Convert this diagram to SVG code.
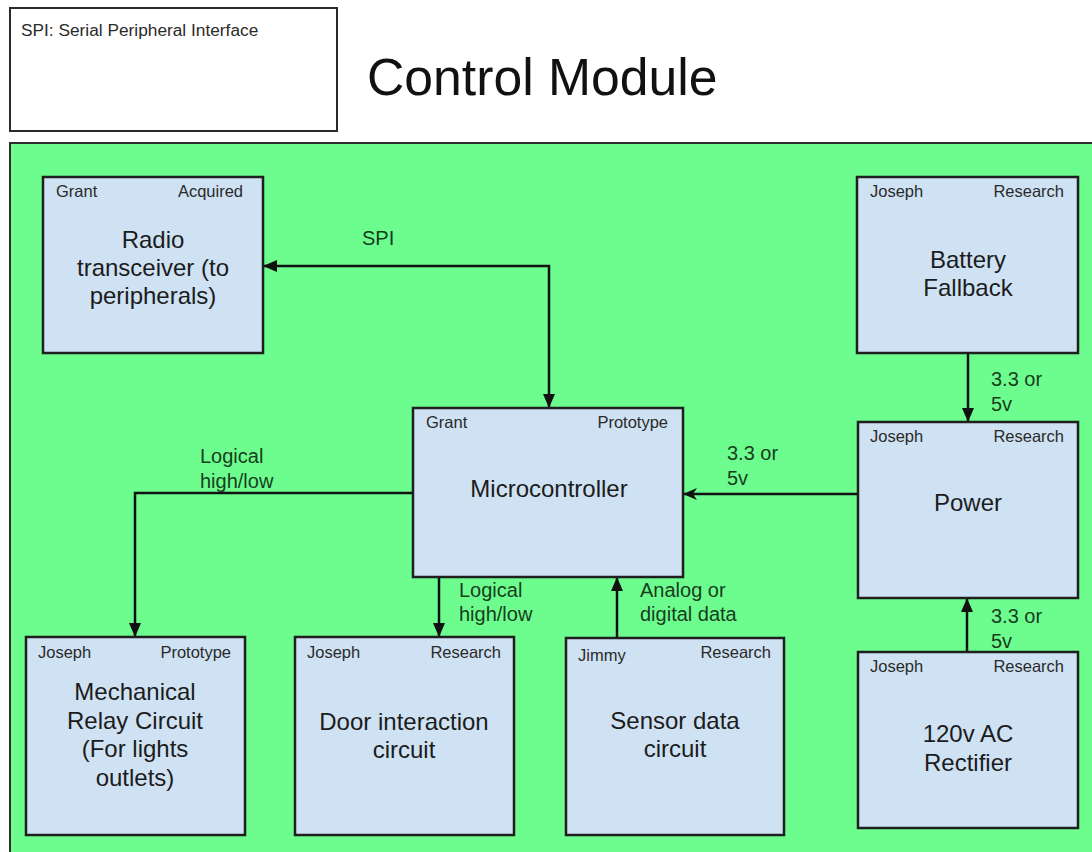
<svg xmlns="http://www.w3.org/2000/svg" width="1092" height="852" viewBox="0 0 1092 852">
<defs>
<style>
.node{fill:#cfe2f3;stroke:#1f1f1f;stroke-width:2.5}
.tag{font-family:"Liberation Sans",Arial,sans-serif;font-size:16.5px;fill:#2a2a2a}
.main{font-family:"Liberation Sans",Arial,sans-serif;font-size:24px;fill:#1c1c1c;text-anchor:middle}
.lbl{font-family:"Liberation Sans",Arial,sans-serif;font-size:20px;fill:#173d20}
.conn{fill:none;stroke:#111;stroke-width:2.5}
</style>
<marker id="arr" markerUnits="userSpaceOnUse" markerWidth="14" markerHeight="12" refX="14" refY="6" orient="auto-start-reverse">
<path d="M0,0 L14,6 L0,12 z" fill="#111"/>
</marker>
<marker id="arr2" markerUnits="userSpaceOnUse" markerWidth="14" markerHeight="12" refX="14" refY="6" orient="auto">
<path d="M0,0 L14,6 L0,12 L4,6 z" fill="#111"/>
</marker>
</defs>
<rect x="0" y="0" width="1092" height="852" fill="#ffffff"/>
<g id="legend">
<rect x="10" y="8" width="327" height="123" fill="#ffffff" stroke="#2a2a2a" stroke-width="2"/>
<text x="21" y="36" class="tag" style="font-size:17.3px">SPI: Serial Peripheral Interface</text>
</g>
<text id="title" x="367" y="95" font-family="'Liberation Sans',Arial,sans-serif" font-size="51.7" fill="#111">Control Module</text>
<rect id="module" x="10" y="143" width="1100" height="730" fill="#6dfd8e" stroke="#2e2e2e" stroke-width="2"/>
<g id="connectors">
<path class="conn" d="M549,408 V266 H263" marker-start="url(#arr)" marker-end="url(#arr)"/>
<path class="conn" d="M413,493 H135 V637" marker-end="url(#arr)"/>
<path class="conn" d="M439,577 V637" marker-end="url(#arr)"/>
<path class="conn" d="M617,638 V577" marker-end="url(#arr)"/>
<path class="conn" d="M968,353 V422" marker-end="url(#arr)"/>
<path class="conn" d="M858,494 H683" marker-end="url(#arr2)"/>
<path class="conn" d="M859,494 V510" stroke-width="3"/>
<path class="conn" d="M967,652 V598" marker-end="url(#arr)"/>
<text class="lbl" x="362" y="245">SPI</text>
<text class="lbl" x="200" y="463">Logical</text>
<text class="lbl" x="200" y="488">high/low</text>
<text class="lbl" x="459" y="597">Logical</text>
<text class="lbl" x="459" y="621">high/low</text>
<text class="lbl" x="640" y="597">Analog or</text>
<text class="lbl" x="640" y="621">digital data</text>
<text class="lbl" x="727" y="460">3.3 or</text>
<text class="lbl" x="727" y="485">5v</text>
<text class="lbl" x="991" y="386">3.3 or</text>
<text class="lbl" x="991" y="411">5v</text>
<text class="lbl" x="991" y="623">3.3 or</text>
<text class="lbl" x="991" y="648">5v</text>
</g>
<g id="radio">
<rect class="node" x="43" y="177" width="220" height="176"/>
<text class="tag" x="56" y="197">Grant</text>
<text class="tag" x="243" y="197" text-anchor="end">Acquired</text>
<text class="main" x="153" y="248">Radio</text>
<text class="main" x="153" y="276">transceiver (to</text>
<text class="main" x="153" y="304">peripherals)</text>
</g>
<g id="microcontroller">
<rect class="node" x="413" y="408" width="270" height="169"/>
<text class="tag" x="426" y="428">Grant</text>
<text class="tag" x="668" y="428" text-anchor="end">Prototype</text>
<text class="main" x="549" y="497">Microcontroller</text>
</g>
<g id="battery">
<rect class="node" x="857" y="177" width="221" height="176"/>
<text class="tag" x="870" y="197">Joseph</text>
<text class="tag" x="1064" y="197" text-anchor="end">Research</text>
<text class="main" x="968" y="268">Battery</text>
<text class="main" x="968" y="296">Fallback</text>
</g>
<g id="power">
<rect class="node" x="858" y="422" width="220" height="176"/>
<text class="tag" x="870" y="442">Joseph</text>
<text class="tag" x="1064" y="442" text-anchor="end">Research</text>
<text class="main" x="968" y="511">Power</text>
</g>
<g id="rectifier">
<rect class="node" x="858" y="652" width="220" height="176"/>
<text class="tag" x="870" y="672">Joseph</text>
<text class="tag" x="1064" y="672" text-anchor="end">Research</text>
<text class="main" x="968" y="742">120v AC</text>
<text class="main" x="968" y="771">Rectifier</text>
</g>
<g id="relay">
<rect class="node" x="26" y="637" width="219" height="198"/>
<text class="tag" x="38" y="658">Joseph</text>
<text class="tag" x="231" y="658" text-anchor="end">Prototype</text>
<text class="main" x="135" y="700">Mechanical</text>
<text class="main" x="135" y="729">Relay Circuit</text>
<text class="main" x="135" y="757">(For lights</text>
<text class="main" x="135" y="786">outlets)</text>
</g>
<g id="door">
<rect class="node" x="295" y="637" width="219" height="198"/>
<text class="tag" x="307" y="658">Joseph</text>
<text class="tag" x="501" y="658" text-anchor="end">Research</text>
<text class="main" x="404" y="730">Door interaction</text>
<text class="main" x="404" y="758">circuit</text>
</g>
<g id="sensor">
<rect class="node" x="566" y="638" width="218" height="197"/>
<text class="tag" x="578" y="661">Jimmy</text>
<text class="tag" x="771" y="658" text-anchor="end">Research</text>
<text class="main" x="675" y="729">Sensor data</text>
<text class="main" x="675" y="757">circuit</text>
</g>
</svg>
